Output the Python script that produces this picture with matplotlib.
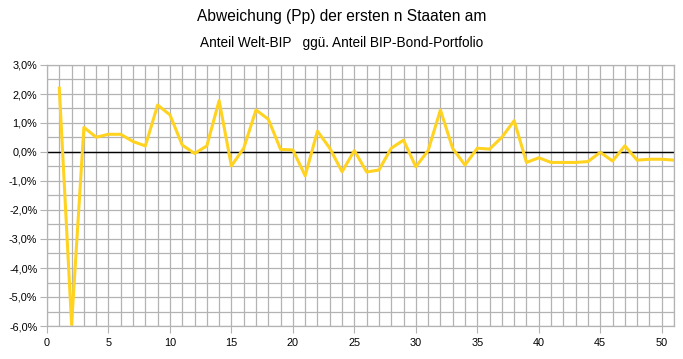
import matplotlib
matplotlib.use("Agg")
import matplotlib.pyplot as plt
from matplotlib.ticker import MultipleLocator, FuncFormatter

plt.rcParams['font.family'] = ['Liberation Sans', 'DejaVu Sans']

# Anzahl Staaten n
n = list(range(1, 52))
# Abweichung in Prozentpunkten
abweichung = [2.2, -5.95, 0.85, 0.51, 0.61, 0.61, 0.36, 0.21, 1.62, 1.28,
              0.24, -0.05, 0.21, 1.77, -0.48, 0.13, 1.45, 1.13, 0.09, 0.07,
              -0.82, 0.72, 0.13, -0.68, 0.05, -0.69, -0.62, 0.13, 0.41, -0.51,
              0.05, 1.45, 0.12, -0.45, 0.13, 0.10, 0.51, 1.08, -0.36, -0.20,
              -0.36, -0.36, -0.36, -0.33, -0.01, -0.31, 0.21, -0.28, -0.25, -0.25,
              -0.28]

fig = plt.figure(figsize=(6.83, 3.59), dpi=100)
ax = fig.add_axes([47/683, 1-326/359, 627/683, 261/359])

ax.plot(n, abweichung, color='#ffd320', linewidth=2.2, zorder=3)
ax.axhline(0, color='black', linewidth=1.0, zorder=2)

ax.set_xlim(0, 51)
ax.set_ylim(-6, 3)
ax.xaxis.set_major_locator(MultipleLocator(5))
ax.xaxis.set_minor_locator(MultipleLocator(1))
ax.yaxis.set_major_locator(MultipleLocator(1))
ax.yaxis.set_minor_locator(MultipleLocator(0.5))
ax.yaxis.set_major_formatter(FuncFormatter(lambda v, p: ('%.1f%%' % v).replace('.', ',')))

ax.grid(which='both', color='#b3b3b3', linewidth=0.9, zorder=0)
ax.tick_params(which='minor', length=0)
ax.tick_params(which='major', length=5, color='#b3b3b3', labelsize=7.8, pad=2)
ax.tick_params(axis='x', pad=4)
for s in ax.spines.values():
    s.set_color('#b3b3b3')
    s.set_linewidth(0.9)

fig.text(0.5, 1-17/359, 'Abweichung (Pp) der ersten n Staaten am',
         ha='center', va='center', fontsize=11.2)
fig.text(0.5, 1-42.5/359, 'Anteil Welt-BIP   ggü. Anteil BIP-Bond-Portfolio',
         ha='center', va='center', fontsize=9.8)

fig.savefig('out.png', dpi=100)
